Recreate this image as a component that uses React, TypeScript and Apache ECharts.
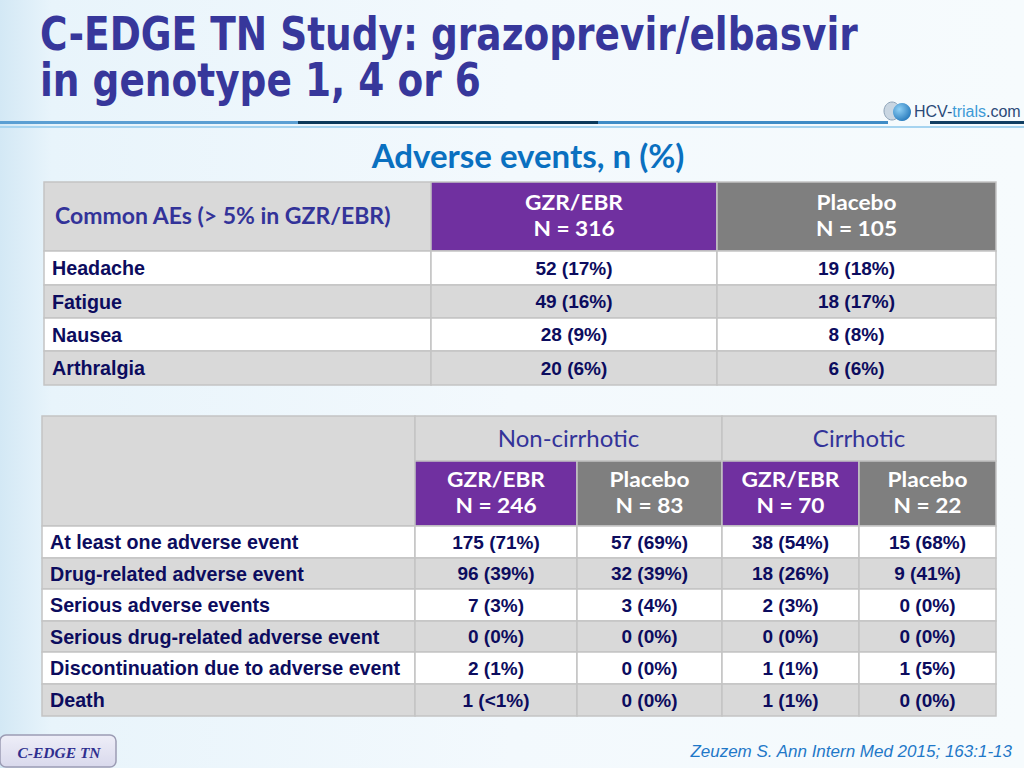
import React, { useEffect, useRef } from "react";
import * as echarts from "echarts";

// ---------- data ----------
const titleLines = ["C-EDGE TN Study: grazoprevir/elbasvir", "in genotype 1, 4 or 6"];
const subtitle = "Adverse events, n (%)";
const commonHeader = "Common AEs (> 5% in GZR/EBR)";
const commonArms = ["GZR/EBR", "Placebo"];
const commonArmN = [316, 105];
const commonCategories = ["Headache", "Fatigue", "Nausea", "Arthralgia"];
const commonGzr = ["52 (17%)", "49 (16%)", "28 (9%)", "20 (6%)"];
const commonPbo = ["19 (18%)", "18 (17%)", "8 (8%)", "6 (6%)"];

const groups = ["Non-cirrhotic", "Cirrhotic"];
const safetyArms = ["GZR/EBR", "Placebo", "GZR/EBR", "Placebo"];
const safetyArmN = [246, 83, 70, 22];
const safetyCategories = [
  "At least one adverse event",
  "Drug-related adverse event",
  "Serious adverse events",
  "Serious drug-related adverse event",
  "Discontinuation due to adverse event",
  "Death",
];
const ncGzr = ["175 (71%)", "96 (39%)", "7 (3%)", "0 (0%)", "2 (1%)", "1 (<1%)"];
const ncPbo = ["57 (69%)", "32 (39%)", "3 (4%)", "0 (0%)", "0 (0%)", "0 (0%)"];
const cGzr = ["38 (54%)", "18 (26%)", "2 (3%)", "0 (0%)", "1 (1%)", "1 (1%)"];
const cPbo = ["15 (68%)", "9 (41%)", "0 (0%)", "0 (0%)", "1 (5%)", "0 (0%)"];

const footnote = "Zeuzem S. Ann Intern Med 2015; 163:1-13";
const badgeText = "C-EDGE TN";
const logoParts = ["HCV-", "trials", ".com"];

// ---------- style ----------
const PURPLE = "#7030a0";
const DARKGRAY = "#7f7f7f";
const LIGHTGRAY = "#d9d9d9";
const BORDER = "#c4c4c4";
const NAVY = "#0c0c5e";
const HEADNAVY = "#333399";
const TITLE_FONT_FAMILY = '"DejaVu Sans Condensed", "DejaVu Sans", sans-serif';
const CAL = 'Lato, "Open Sans", sans-serif';
const ARIAL = 'Arial, "Liberation Sans", sans-serif';
const ARM_FONT = `bold 21px ${CAL}`;
const ARM_SCALE = 1.08;

function measure(text: string, font: string): number {
  const c = document.createElement("canvas");
  const ctx = c.getContext("2d")!;
  ctx.font = font;
  return ctx.measureText(text).width;
}

function txt(x: number, y: number, text: string, font: string, fill: string, align = "center", extra: any = {}) {
  return {
    type: "text",
    x,
    y,
    ...extra,
    style: {
      text,
      font,
      fill,
      align,
      verticalAlign: "middle",
      textAlign: align,
      textVerticalAlign: "middle",
    },
  };
}

function cell(x: number, y: number, w: number, h: number, fill: string, stroke = BORDER) {
  return {
    type: "rect",
    shape: { x, y, width: w, height: h },
    style: { fill, stroke, lineWidth: 1.5 },
  };
}

function buildGraphic() {
  const els: any[] = [];

  // background
  els.push({
    type: "rect",
    shape: { x: 0, y: 0, width: 1024, height: 768 },
    style: {
      fill: new echarts.graphic.LinearGradient(0, 0, 1, 0, [
        { offset: 0, color: "#d3e8f5" },
        { offset: 0.05, color: "#e8f4fb" },
        { offset: 0.5, color: "#f3f9fd" },
        { offset: 1, color: "#f6fbfd" },
      ]),
    },
  });

  // title
  const tFont = `bold 46px ${TITLE_FONT_FAMILY}`;
  const w1 = measure(titleLines[0], tFont);
  const sx = w1 > 0 ? 818 / w1 : 1;
  titleLines.forEach((line, i) => {
    els.push({
      type: "text",
      x: 40,
      y: 34 + i * 46,
      scaleX: sx,
      style: { text: line, font: tFont, fill: "#37379b", align: "left", verticalAlign: "middle", textAlign: "left", textVerticalAlign: "middle" },
    });
  });

  // header separator lines
  els.push({ type: "rect", shape: { x: 0, y: 121, width: 298, height: 3 }, style: { fill: "#5b9fd3" } });
  els.push({ type: "rect", shape: { x: 298, y: 121, width: 300, height: 3 }, style: { fill: "#0c3a5c" } });
  els.push({ type: "rect", shape: { x: 598, y: 121, width: 290, height: 3 }, style: { fill: "#3f8cc6" } });
  els.push({ type: "rect", shape: { x: 930, y: 121, width: 94, height: 3 }, style: { fill: "#123f63" } });
  els.push({ type: "rect", shape: { x: 0, y: 126, width: 1024, height: 2 }, style: { fill: "#a6d4f0" } });

  // logo
  els.push({ type: "ellipse", shape: { cx: 892, cy: 111, rx: 8, ry: 9 }, style: { fill: "#c9d6e2", stroke: "#8ea3b8", lineWidth: 1 } });
  els.push({ type: "circle", shape: { cx: 902, cy: 112, r: 9 }, style: { fill: new echarts.graphic.RadialGradient(0.35, 0.35, 0.8, [{ offset: 0, color: "#8fd0f5" }, { offset: 1, color: "#1a6fb5" }]) } });
  els.push({
    type: "text",
    x: 914,
    y: 111,
    style: {
      text: `{a|${logoParts[0]}}{b|${logoParts[1]}}{a|${logoParts[2]}}`,
      align: "left",
      verticalAlign: "middle",
      textAlign: "left",
      textVerticalAlign: "middle",
      rich: {
        a: { font: `16px ${ARIAL}`, fill: "#2b4a78", color: "#2b4a78" },
        b: { font: `16px ${ARIAL}`, fill: "#3d9ad6", color: "#3d9ad6" },
      },
    },
  });

  // subtitle
  els.push(txt(528, 155, subtitle, `bold 33px ${CAL}`, "#0a70c0"));

  // ---------- table 1 ----------
  const c1 = [44, 431, 717, 996];
  const r1 = [182, 251, 285, 318, 351, 385];
  els.push(cell(c1[0], r1[0], c1[1] - c1[0], r1[1] - r1[0], LIGHTGRAY));
  els.push(txt(55, 215, commonHeader, `bold 23px ${CAL}`, HEADNAVY, "left"));
  commonArms.forEach((arm, i) => {
    const x = c1[i + 1];
    const w = c1[i + 2] - x;
    els.push(cell(x, r1[0], w, r1[1] - r1[0], i === 0 ? PURPLE : DARKGRAY));
    els.push(txt(x + w / 2, 202, arm, ARM_FONT, "#ffffff", "center", { scaleX: ARM_SCALE }));
    els.push(txt(x + w / 2, 228, `N = ${commonArmN[i]}`, ARM_FONT, "#ffffff", "center", { scaleX: ARM_SCALE }));
  });
  commonCategories.forEach((cat, r) => {
    const y = r1[r + 1];
    const h = r1[r + 2] - y;
    const fill = r % 2 === 0 ? "#ffffff" : LIGHTGRAY;
    for (let c = 0; c < 3; c++) els.push(cell(c1[c], y, c1[c + 1] - c1[c], h, fill));
    els.push(txt(52, y + h / 2, cat, `bold 19.7px ${ARIAL}`, NAVY, "left"));
    els.push(txt((c1[1] + c1[2]) / 2, y + h / 2, commonGzr[r], `bold 19px ${ARIAL}`, NAVY));
    els.push(txt((c1[2] + c1[3]) / 2, y + h / 2, commonPbo[r], `bold 19px ${ARIAL}`, NAVY));
  });

  // ---------- table 2 ----------
  const c2 = [42, 415, 577, 722, 859, 996];
  const r2h = [416, 461, 526];
  const r2 = [526, 558, 589, 621, 652, 684, 716];
  els.push(cell(c2[0], r2h[0], c2[1] - c2[0], r2h[2] - r2h[0], LIGHTGRAY));
  groups.forEach((g, i) => {
    const x = c2[1 + i * 2];
    const w = c2[3 + i * 2] - x;
    els.push(cell(x, r2h[0], w, r2h[1] - r2h[0], LIGHTGRAY));
    els.push(txt(x + w / 2, 437, g, `24px ${CAL}`, HEADNAVY));
  });
  safetyArms.forEach((arm, i) => {
    const x = c2[i + 1];
    const w = c2[i + 2] - x;
    els.push(cell(x, r2h[1], w, r2h[2] - r2h[1], i % 2 === 0 ? PURPLE : DARKGRAY));
    els.push(txt(x + w / 2, 479, arm, ARM_FONT, "#ffffff", "center", { scaleX: ARM_SCALE }));
    els.push(txt(x + w / 2, 505, `N = ${safetyArmN[i]}`, ARM_FONT, "#ffffff", "center", { scaleX: ARM_SCALE }));
  });
  const cols = [ncGzr, ncPbo, cGzr, cPbo];
  safetyCategories.forEach((cat, r) => {
    const y = r2[r];
    const h = r2[r + 1] - y;
    const fill = r % 2 === 0 ? "#ffffff" : LIGHTGRAY;
    for (let c = 0; c < 5; c++) els.push(cell(c2[c], y, c2[c + 1] - c2[c], h, fill));
    els.push(txt(50, y + h / 2, cat, `bold 19.7px ${ARIAL}`, NAVY, "left"));
    cols.forEach((col, c) => {
      els.push(txt((c2[c + 1] + c2[c + 2]) / 2, y + h / 2, col[r], `bold 19px ${ARIAL}`, NAVY));
    });
  });

  // badge
  els.push({
    type: "rect",
    shape: { x: 0, y: 735, width: 116, height: 32, r: 6 },
    style: {
      fill: new echarts.graphic.LinearGradient(0, 0, 0, 1, [
        { offset: 0, color: "#eeeef8" },
        { offset: 1, color: "#d9d9ec" },
      ]),
      stroke: "#9c9cb4",
      lineWidth: 1.5,
    },
  });
  els.push(txt(59, 752, badgeText, `italic bold 15.5px "Liberation Serif", "DejaVu Serif", serif`, "#2e2e8f"));

  // footnote
  els.push(txt(1012, 751, footnote, `italic 17px ${ARIAL}`, "#1f78c8", "right"));

  return els;
}

export default function App() {
  const ref = useRef<HTMLDivElement>(null);
  useEffect(() => {
    document.body.style.margin = "0";
    if (!ref.current) return;
    const chart = echarts.init(ref.current, undefined, { renderer: "svg" });
    chart.setOption({
      animation: false,
      graphic: { elements: buildGraphic() },
    });
    return () => chart.dispose();
  }, []);
  return <div ref={ref} style={{ width: 1024, height: 768 }} />;
}
